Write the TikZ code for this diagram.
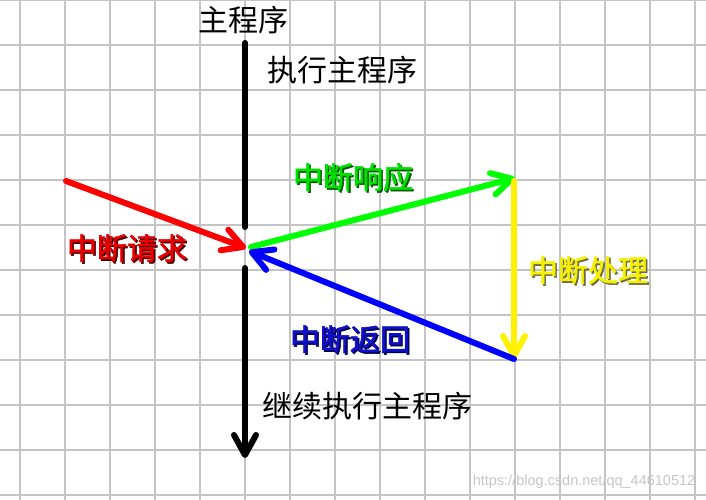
\documentclass[tikz,border=0pt]{standalone}
\usepackage{fontspec}
\usetikzlibrary{arrows.meta}
\newfontfamily\cjk{Noto Sans CJK SC}
\newfontfamily\cjkb[FakeBold=1.8]{Noto Sans CJK SC}
\newfontfamily\wmfont{Liberation Sans}
\definecolor{gridc}{HTML}{C4C4C4}
\definecolor{redt}{HTML}{E80000}
\definecolor{greent}{HTML}{00E000}
\definecolor{yellowt}{HTML}{F4F000}
\definecolor{bluet}{HTML}{1010C8}
\newcommand\shad[2]{\rlap{\kern1.6pt\raisebox{-1.6pt}{\color{#1}#2}}#2}
\tikzset{
  gridline/.style={draw=gridc, line width=1.2pt},
  plain/.style={font={\cjk\fontsize{30}{32}\selectfont}, text=black, inner sep=0pt},
  colored/.style={font={\cjkb\fontsize{30}{32}\selectfont}, inner sep=0pt},
  conn/.style={line width=6pt, line cap=round, line join=round,
    -{Straight Barb[length=20pt,width=22pt,line cap=round,line join=round]}},
  mainline/.style={line width=6pt, line cap=round, draw=black},
}
\begin{document}
\begin{tikzpicture}[x=1pt,y=-1pt]
\useasboundingbox (0,0) rectangle (706,500);
\fill[white] (0,0) rectangle (706,500);
\foreach \x in {20,65,...,695} \draw[gridline] (\x,0) -- (\x,500);
\foreach \y in {0,45,...,495} \draw[gridline] (0,\y) -- (706,\y);

% coordinates
\coordinate (top) at (245,43);
\coordinate (topend) at (245,227);
\coordinate (botstart) at (245,268);
\coordinate (bot) at (245,458);
\coordinate (c) at (246,248);
\coordinate (r0) at (66,181);
\coordinate (g0) at (251,247);
\coordinate (g1) at (515,178);
\coordinate (y0) at (514,181);
\coordinate (y1) at (514,359);
\coordinate (b1) at (249,251);

% main program line
\draw[mainline] (top) -- (topend);
\draw[conn, draw=black] (botstart) -- (bot);

% arrows
\draw[conn, draw=red] (r0) -- (c);
\draw[conn, draw=green] (g0) -- (g1);
\draw[conn, draw=yellow] (y0) -- (y1);
\draw[conn, draw=blue, -{Straight Barb[length=20pt,width=22pt,line cap=round,line join=round]}] (y1) -- (b1);

% texts
\node[plain] (tmain) at (243,20) {主程序};
\node[plain] (texec) at (342,70) {执行主程序};
\node[plain] (tcont) at (367,406) {继续执行主程序};
\node[colored, text=redt] (treq) at (127,249) {\shad{black!70!red}{中断请求}};
\node[colored, text=greent] (tresp) at (353,178) {\shad{black!65!green}{中断响应}};
\node[colored, text=yellowt] (tproc) at (588,271) {\shad{black!65!yellow}{中断处理}};
\node[colored, text=bluet] (tret) at (350,340) {\shad{black!70!blue}{中断返回}};
\node[font={\wmfont\fontsize{14.5}{16}\selectfont}, text=black!22, inner sep=0pt] (wm) at (584,482) {https://blog.csdn.net/qq\_44610512};
\end{tikzpicture}
\end{document}
